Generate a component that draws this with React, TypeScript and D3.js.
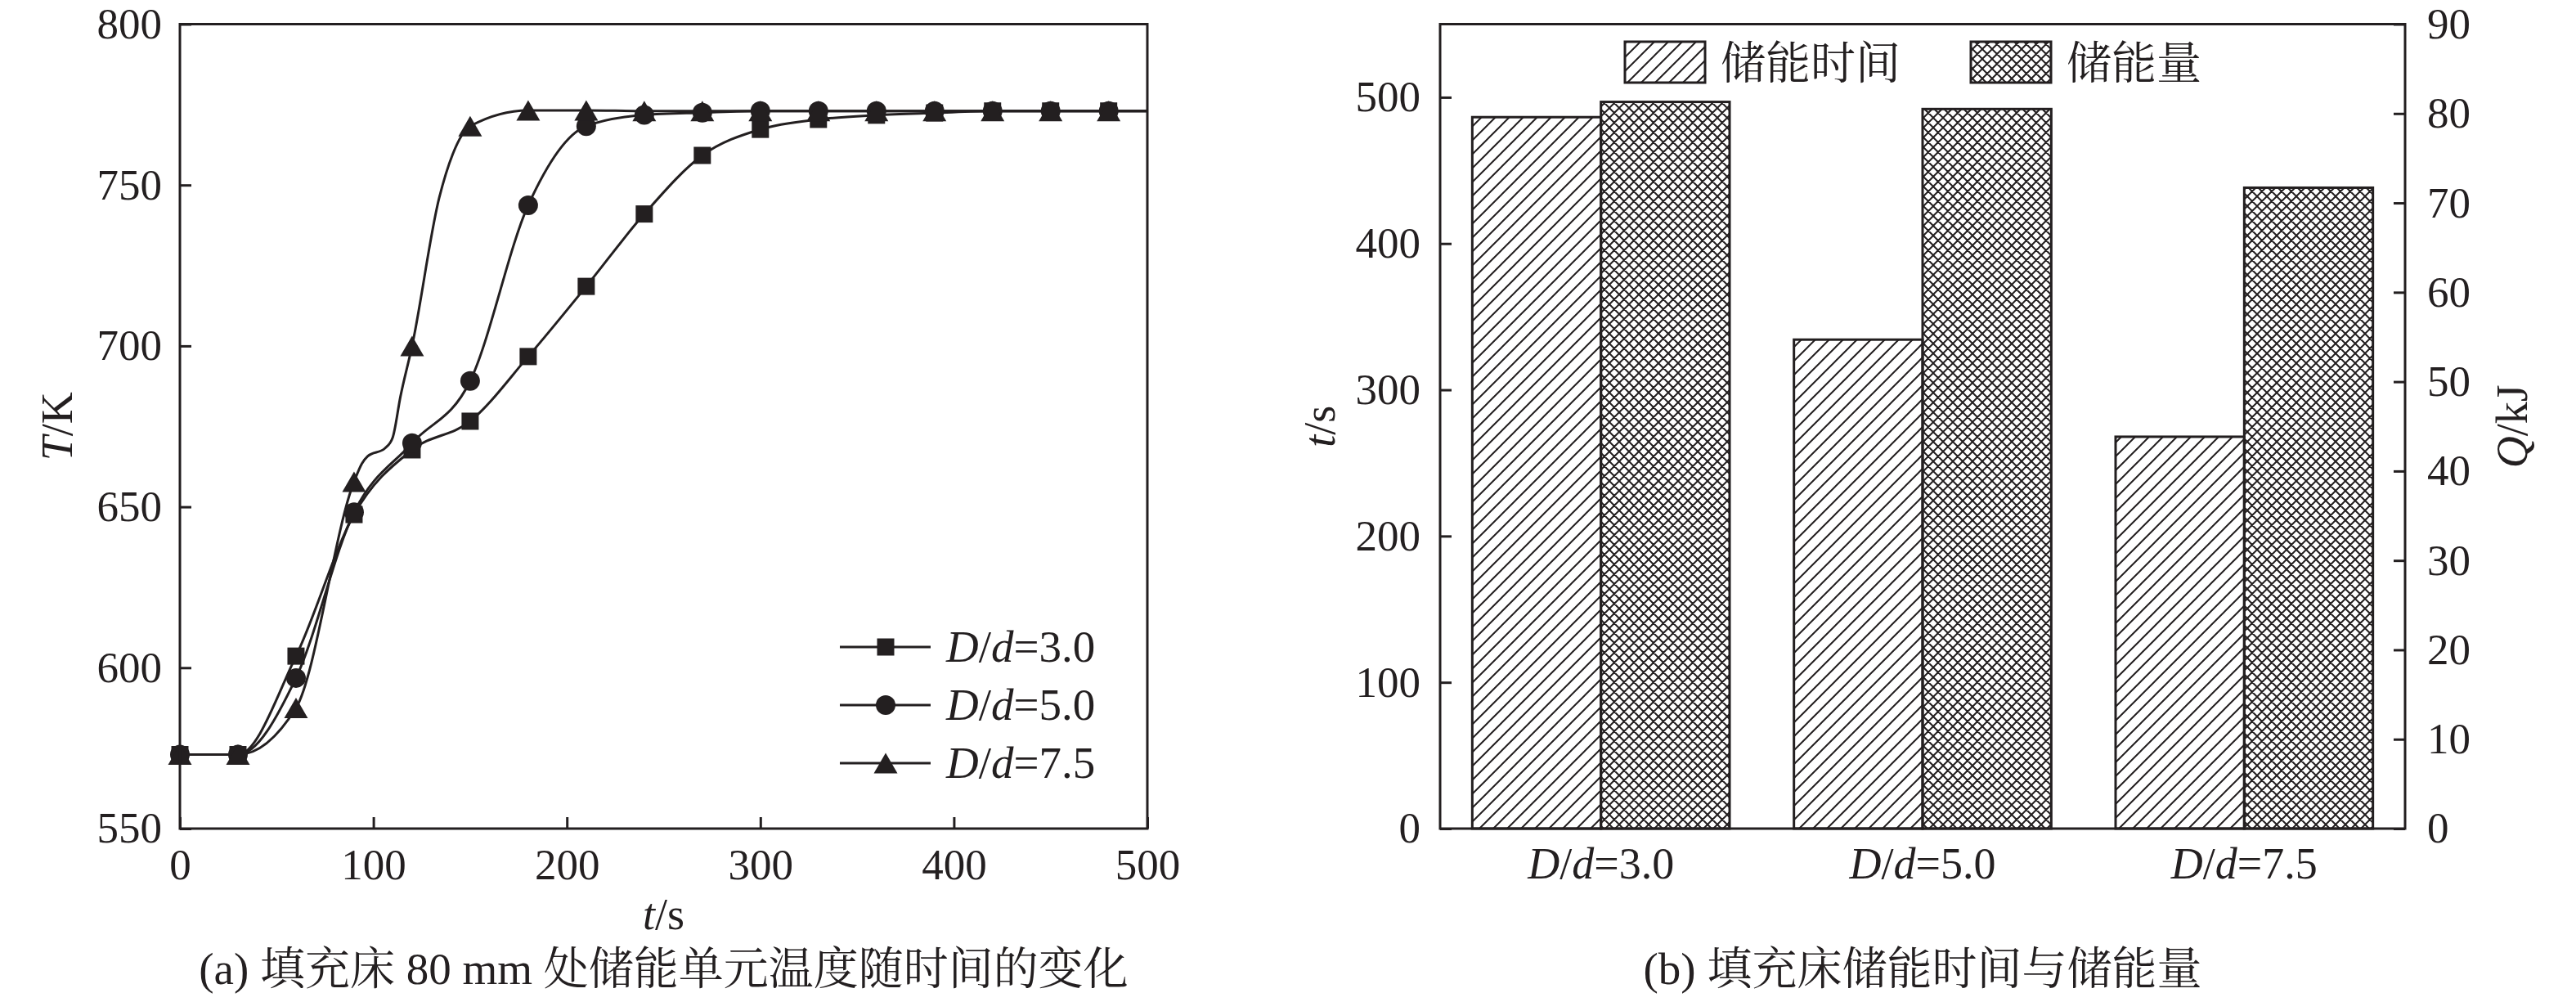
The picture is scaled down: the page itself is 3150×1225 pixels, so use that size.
import React, { useRef, useEffect } from 'react';
import * as d3 from 'd3';

// (a) temperature of the storage unit at 80 mm
const times = [0, 30, 60, 90, 120, 150, 180, 210, 240, 270, 300, 330, 360, 390, 420, 450, 480, 500];
// the 500 s point only carries the line to the frame, it gets no marker
const temp30 = [573, 573, 603.6, 647.6, 667.7, 676.6, 696.7, 718.5, 741, 759.2, 767.3, 770.4, 771.7, 772.4, 773, 773, 773, 773];
const temp50 = [573, 573, 596.8, 648.3, 669.8, 689.1, 743.7, 768.3, 771.8, 772.5, 773, 773, 773, 773, 773, 773, 773, 773];
const temp75 = [573, 573, 587.5, 657.8, 700, 768.3, 773.2, 773.2, 773, 773, 773, 773, 773, 773, 773, 773, 773, 773];
const extraTimes75 = [94, 97, 106, 110, 114, 134, 141];
const extraTemp75 = [663.4, 665.7, 668.2, 671.6, 684.3, 746, 759.6];
const seriesRatios = ['3.0', '5.0', '7.5'];
const tempTicks = [550, 600, 650, 700, 750, 800];
const timeTicks = [0, 100, 200, 300, 400, 500];

// (b) storage time and stored energy
const barRatios = ['3.0', '5.0', '7.5'];
const storeTime = [486.4, 334.3, 267.9];
const storeEnergy = [81.3, 80.5, 71.7];
const storeTimeTicks = [0, 100, 200, 300, 400, 500];
const energyTicks = [0, 10, 20, 30, 40, 50, 60, 70, 80, 90];

const INK = '#231f20';
const SERIF = "'Liberation Serif', 'Times New Roman', 'Noto Serif CJK SC', 'Noto Sans CJK SC', serif";
const FS = 53;

const ratioText = (sel: any, value: string) => {
    sel.append('tspan').attr('font-style', 'italic').text('D');
    sel.append('tspan').text('/');
    sel.append('tspan').attr('font-style', 'italic').text('d');
    sel.append('tspan').text('=' + value);
};

const styleAxis = (g: any) => {
    g.select('.domain').remove();
    g.selectAll('line').attr('stroke', INK).attr('stroke-width', 3);
    g.selectAll('text').attr('fill', INK).attr('font-size', FS).attr('font-family', SERIF);
    g.attr('font-family', SERIF);
};

const App: React.FC = () => {
    const svgRef = useRef<SVGSVGElement | null>(null);

    useEffect(() => {
        const svg = d3.select(svgRef.current);
        svg.selectAll('*').remove();

        // ---------- hatch patterns ----------
        const defs = svg.append('defs');
        defs.append('pattern')
            .attr('id', 'hatch')
            .attr('patternUnits', 'userSpaceOnUse')
            .attr('width', 17).attr('height', 17)
            .append('path')
            .attr('d', 'M-4,4 L4,-4 M0,17 L17,0 M13,21 L21,13')
            .attr('stroke', INK).attr('stroke-width', 2);
        defs.append('pattern')
            .attr('id', 'cross')
            .attr('patternUnits', 'userSpaceOnUse')
            .attr('width', 12).attr('height', 12)
            .append('path')
            .attr('d', 'M-3,3 L3,-3 M0,12 L12,0 M9,15 L15,9 M-3,9 L3,15 M0,0 L12,12 M9,-3 L15,3')
            .attr('stroke', INK).attr('stroke-width', 2);

        const top = 29.5;
        const bottom = 1013;

        // ---------- (a) line chart ----------
        const ax0 = 220, ax1 = 1403;
        const x = d3.scaleLinear().domain([0, 500]).range([ax0, ax1]);
        const y = d3.scaleLinear().domain([550, 800]).range([bottom, top]);
        const a = svg.append('g');

        a.append('g')
            .attr('transform', `translate(${ax0},0)`)
            .call(d3.axisLeft(y).tickValues(tempTicks).tickSizeInner(-14).tickSizeOuter(0).tickPadding(22))
            .call(styleAxis);
        a.append('g')
            .attr('transform', `translate(0,${bottom})`)
            .call(d3.axisBottom(x).tickValues(timeTicks).tickSizeInner(-14).tickSizeOuter(0).tickPadding(24))
            .call(styleAxis);

        const line = d3.line<[number, number]>()
            .x(d => x(d[0]))
            .y(d => y(d[1]))
            .curve(d3.curveMonotoneX);

        const tri = 'M0,-12.5L14.5,12.5L-14.5,12.5Z';
        const markers = [
            d3.symbol(d3.symbolSquare, 21 * 21)(),
            d3.symbol(d3.symbolCircle, Math.PI * 12 * 12)(),
            tri,
        ];
        const series = [temp30, temp50, temp75];
        const extras: [number, number][][] = [
            [],
            [],
            extraTimes75.map((t, i) => [t, extraTemp75[i]] as [number, number]),
        ];

        series.forEach((values, si) => {
            const pts = times
                .map((t, i) => [t, values[i]] as [number, number])
                .concat(extras[si])
                .sort((p, q) => p[0] - q[0]);
            a.append('path')
                .datum(pts)
                .attr('d', line)
                .attr('fill', 'none')
                .attr('stroke', INK)
                .attr('stroke-width', 3);
        });
        series.forEach((values, si) => {
            a.selectAll(`.m${si}`)
                .data(values.slice(0, values.length - 1))
                .enter()
                .append('path')
                .attr('transform', (d, i) => `translate(${x(times[i])},${y(d)})`)
                .attr('d', markers[si] as string)
                .attr('fill', INK);
        });

        a.append('rect')
            .attr('x', ax0).attr('y', top)
            .attr('width', ax1 - ax0).attr('height', bottom - top)
            .attr('fill', 'none').attr('stroke', INK).attr('stroke-width', 3);

        // legend
        seriesRatios.forEach((r, i) => {
            const ly = 791 + i * 71;
            a.append('line')
                .attr('x1', 1027).attr('x2', 1138).attr('y1', ly).attr('y2', ly)
                .attr('stroke', INK).attr('stroke-width', 3);
            a.append('path')
                .attr('transform', `translate(1083,${ly})`)
                .attr('d', markers[i] as string)
                .attr('fill', INK);
            a.append('text')
                .attr('x', 1157).attr('y', ly + 18)
                .attr('font-size', 55).attr('font-family', SERIF).attr('fill', INK)
                .call(ratioText, r);
        });

        const tl = a.append('text')
            .attr('x', (ax0 + ax1) / 2).attr('y', 1136)
            .attr('text-anchor', 'middle')
            .attr('font-size', 54).attr('font-family', SERIF).attr('fill', INK);
        tl.append('tspan').attr('font-style', 'italic').text('t');
        tl.append('tspan').text('/s');

        const TK = a.append('text')
            .attr('transform', `translate(88,${(top + bottom) / 2}) rotate(-90)`)
            .attr('text-anchor', 'middle')
            .attr('font-size', 54).attr('font-family', SERIF).attr('fill', INK);
        TK.append('tspan').attr('font-style', 'italic').text('T');
        TK.append('tspan').text('/K');

        a.append('text')
            .attr('x', (ax0 + ax1) / 2).attr('y', 1203)
            .attr('text-anchor', 'middle')
            .attr('font-size', 55).attr('font-family', SERIF).attr('fill', INK)
            .text('(a) 填充床 80 mm 处储能单元温度随时间的变化');

        // ---------- (b) bar chart ----------
        const bx0 = 1761, bx1 = 2941;
        const xb = d3.scaleBand<string>().domain(barRatios).range([bx0, bx1]).padding(0);
        const yt = d3.scaleLinear().domain([0, 550]).range([bottom, top]);
        const yq = d3.scaleLinear().domain([0, 90]).range([bottom, top]);
        const barW = xb.bandwidth() * 0.4;
        const b = svg.append('g');

        b.selectAll('.bt')
            .data(storeTime)
            .enter()
            .append('rect')
            .attr('x', (_, i) => (xb(barRatios[i]) as number) + xb.bandwidth() / 2 - barW)
            .attr('y', d => yt(d))
            .attr('width', barW)
            .attr('height', d => bottom - yt(d))
            .attr('fill', 'url(#hatch)')
            .attr('stroke', INK).attr('stroke-width', 3);
        b.selectAll('.bq')
            .data(storeEnergy)
            .enter()
            .append('rect')
            .attr('x', (_, i) => (xb(barRatios[i]) as number) + xb.bandwidth() / 2)
            .attr('y', d => yq(d))
            .attr('width', barW)
            .attr('height', d => bottom - yq(d))
            .attr('fill', 'url(#cross)')
            .attr('stroke', INK).attr('stroke-width', 3);

        b.append('g')
            .attr('transform', `translate(${bx0},0)`)
            .call(d3.axisLeft(yt).tickValues(storeTimeTicks).tickSizeInner(-14).tickSizeOuter(0).tickPadding(24))
            .call(styleAxis);
        b.append('g')
            .attr('transform', `translate(${bx1},0)`)
            .call(d3.axisRight(yq).tickValues(energyTicks).tickSizeInner(-14).tickSizeOuter(0).tickPadding(27))
            .call(styleAxis);

        b.append('rect')
            .attr('x', bx0).attr('y', top)
            .attr('width', bx1 - bx0).attr('height', bottom - top)
            .attr('fill', 'none').attr('stroke', INK).attr('stroke-width', 3);

        barRatios.forEach(r => {
            b.append('text')
                .attr('x', (xb(r) as number) + xb.bandwidth() / 2).attr('y', 1074)
                .attr('text-anchor', 'middle')
                .attr('font-size', 54).attr('font-family', SERIF).attr('fill', INK)
                .call(ratioText, r);
        });

        // legend
        const legend = [
            { label: '储能时间', fill: 'url(#hatch)', x: 1987 },
            { label: '储能量', fill: 'url(#cross)', x: 2410 },
        ];
        legend.forEach(l => {
            b.append('rect')
                .attr('x', l.x).attr('y', 51).attr('width', 98).attr('height', 50)
                .attr('fill', l.fill).attr('stroke', INK).attr('stroke-width', 3);
            b.append('text')
                .attr('x', l.x + 117).attr('y', 96)
                .attr('font-size', 55).attr('font-family', SERIF).attr('fill', INK)
                .text(l.label);
        });

        const ts = b.append('text')
            .attr('transform', `translate(1632,${(top + bottom) / 2}) rotate(-90)`)
            .attr('text-anchor', 'middle')
            .attr('font-size', 54).attr('font-family', SERIF).attr('fill', INK);
        ts.append('tspan').attr('font-style', 'italic').text('t');
        ts.append('tspan').text('/s');

        const qk = b.append('text')
            .attr('transform', `translate(3090,${(top + bottom) / 2}) rotate(-90)`)
            .attr('text-anchor', 'middle')
            .attr('font-size', 54).attr('font-family', SERIF).attr('fill', INK);
        qk.append('tspan').attr('font-style', 'italic').text('Q');
        qk.append('tspan').text('/kJ');

        b.append('text')
            .attr('x', (bx0 + bx1) / 2).attr('y', 1203)
            .attr('text-anchor', 'middle')
            .attr('font-size', 55).attr('font-family', SERIF).attr('fill', INK)
            .text('(b) 填充床储能时间与储能量');
    }, []);

    return (
        <svg
            ref={svgRef}
            width={3150}
            height={1225}
            style={{ position: 'absolute', left: 0, top: 0, background: '#fff' }}
        />
    );
};

export default App;
